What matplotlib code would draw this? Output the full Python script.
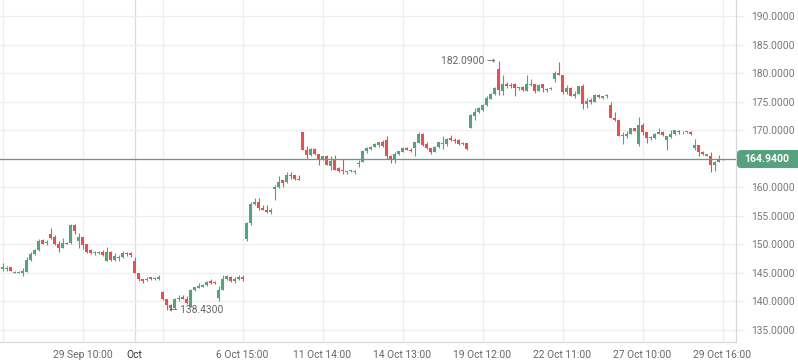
import matplotlib
matplotlib.use("Agg")
from matplotlib import pyplot as plt
from matplotlib.patches import FancyBboxPatch
from matplotlib.transforms import IdentityTransform
import numpy as np

plt.rcParams['font.family'] = ['Roboto', 'DejaVu Sans']

# hourly candles, one row per bar (open, high, low, close)
opens = [145.6, 145.7, 146.0, 145.0, 145.0, 145.0, 145.2, 147.2, 148.3, 149.0,
         150.7, 150.2, 151.8, 151.2, 150.1, 149.3, 150.3, 150.2, 153.4, 150.5,
         151.2, 150.0, 149.0, 148.4, 148.4, 148.7, 147.1, 148.7, 147.3, 147.6,
         147.8, 148.5, 148.4, 147.0, 145.0, 143.9, 143.7, 144.2, 143.9, 143.9,
         141.7, 140.4, 139.4, 138.8, 140.4, 140.7, 140.5, 139.1, 142.0, 142.4,
         142.6, 142.8, 143.6, 143.4, 140.6, 142.0, 143.9, 144.3, 143.6, 143.9,
         144.2, 150.9, 153.7, 157.1, 157.5, 156.4, 156.1, 155.7, 159.7, 160.1,
         161.2, 161.0, 162.1, 162.1, 161.4, 169.6, 166.6, 165.6, 166.7, 165.8,
         164.8, 165.4, 163.7, 164.7, 163.3, 163.0, 162.6, 162.8, 162.7, 164.1,
         164.5, 166.3, 166.7, 167.1, 167.4, 167.9, 168.2, 165.4, 164.9, 165.9,
         166.2, 166.8, 166.6, 166.8, 167.7, 169.4, 167.6, 166.9, 166.1, 167.0,
         167.5, 167.5, 168.6, 168.3, 168.3, 167.5, 167.8, 170.4, 172.5, 173.1,
         173.5, 174.4, 175.5, 176.3, 180.7, 176.9, 178.0, 177.8, 178.0, 177.3,
         177.6, 176.9, 177.9, 178.0, 176.9, 178.0, 177.2, 177.2, 179.0, 180.0,
         179.7, 176.7, 177.4, 176.0, 176.4, 177.8, 174.5, 175.3, 175.0, 176.2,
         175.7, 175.9, 174.4, 172.2, 171.8, 168.9, 169.0, 169.4, 170.3, 167.5,
         170.9, 169.7, 168.6, 168.6, 169.4, 169.7, 168.3, 168.8, 169.3, 169.9,
         169.6, 169.6, 169.7, 166.8, 167.4, 166.2, 165.5, 165.5, 163.9, 164.5,
         164.8]
highs = [146.7, 146.2, 146.1, 145.3, 145.3, 145.8, 147.8, 148.6, 149.2, 150.9,
         150.9, 150.8, 152.8, 151.6, 150.6, 151.1, 150.4, 153.6, 153.5, 151.9,
         151.3, 150.0, 149.1, 148.9, 148.8, 149.0, 149.5, 148.8, 148.4, 148.1,
         148.8, 148.7, 148.6, 147.8, 145.0, 144.0, 144.2, 144.3, 144.2, 144.6,
         141.8, 140.5, 139.5, 140.6, 141.2, 141.1, 141.0, 142.1, 142.6, 143.3,
         143.0, 143.5, 143.9, 143.5, 142.7, 144.6, 144.6, 144.5, 144.3, 144.6,
         144.6, 153.9, 157.5, 158.1, 158.1, 156.9, 156.9, 156.3, 160.4, 161.9,
         161.3, 162.6, 162.6, 162.2, 162.1, 169.7, 167.2, 166.8, 166.9, 165.8,
         165.5, 165.6, 165.5, 165.6, 163.6, 164.9, 162.9, 163.0, 163.0, 164.8,
         166.5, 167.1, 167.3, 167.7, 168.0, 168.3, 168.9, 165.6, 166.2, 166.4,
         167.0, 167.0, 166.9, 167.9, 169.6, 169.5, 167.9, 166.9, 167.2, 168.0,
         169.0, 168.6, 169.1, 168.6, 168.4, 167.9, 167.8, 172.8, 173.8, 174.0,
         174.5, 175.9, 176.5, 177.5, 182.09, 179.7, 178.4, 178.3, 178.2, 177.6,
         177.8, 179.7, 179.0, 178.0, 178.0, 178.1, 177.3, 177.6, 180.4, 182.0,
         179.7, 177.9, 177.5, 176.9, 177.8, 178.0, 175.6, 175.7, 176.3, 176.3,
         176.0, 176.3, 174.9, 173.1, 171.8, 169.6, 169.9, 170.4, 170.4, 172.3,
         171.2, 169.7, 168.9, 169.5, 170.3, 169.9, 169.0, 170.0, 170.1, 170.1,
         169.9, 169.9, 169.9, 168.4, 167.4, 166.4, 165.9, 166.1, 164.6, 165.6,
         165.0]
lows = [145.4, 145.4, 145.3, 144.9, 144.9, 144.4, 145.1, 147.1, 148.2, 148.9,
        150.0, 149.9, 150.9, 149.8, 148.7, 149.3, 150.0, 150.1, 151.8, 149.4,
        149.1, 148.5, 148.3, 148.2, 148.3, 148.0, 147.0, 147.0, 147.1, 147.0,
        147.6, 148.0, 147.7, 144.9, 143.6, 143.3, 143.5, 143.8, 143.8, 143.7,
        140.3, 138.43, 138.5, 138.7, 140.1, 140.4, 139.5, 139.0, 141.8, 142.3,
        142.5, 142.7, 143.1, 143.1, 140.0, 142.0, 143.8, 143.4, 143.3, 143.8,
        143.5, 150.6, 153.4, 156.9, 156.1, 156.0, 155.5, 155.4, 157.8, 159.8,
        160.1, 160.8, 161.4, 161.3, 161.3, 166.5, 164.9, 165.5, 165.7, 163.9,
        164.7, 163.9, 163.0, 163.0, 162.6, 162.3, 162.3, 162.6, 162.3, 163.6,
        164.5, 166.0, 166.6, 167.0, 167.1, 167.1, 164.9, 164.2, 164.2, 165.7,
        166.1, 166.5, 166.2, 165.4, 167.7, 167.3, 166.7, 165.9, 166.1, 166.9,
        166.7, 167.3, 168.1, 167.8, 167.4, 167.4, 166.6, 170.4, 171.8, 173.0,
        173.4, 174.3, 175.4, 176.2, 176.2, 176.2, 177.3, 177.3, 176.0, 177.0,
        176.9, 176.9, 177.7, 176.5, 176.8, 176.7, 176.7, 177.0, 178.5, 179.6,
        176.4, 176.3, 175.9, 175.7, 176.3, 173.7, 173.8, 174.6, 175.0, 175.7,
        175.5, 175.7, 172.1, 171.6, 168.9, 167.5, 168.7, 169.3, 169.8, 167.3,
        169.2, 167.7, 168.3, 168.5, 169.3, 169.0, 166.6, 168.6, 169.1, 169.3,
        169.4, 169.5, 169.2, 166.6, 165.5, 165.6, 165.4, 162.7, 162.9, 164.5,
        164.7]
closes = [146.0, 145.9, 145.4, 145.1, 145.1, 145.3, 147.2, 148.3, 149.0, 150.6,
          150.1, 150.3, 151.1, 150.0, 149.3, 150.2, 150.1, 153.4, 152.4, 151.2,
          149.9, 148.7, 148.4, 148.6, 148.6, 148.2, 148.6, 147.3, 148.0, 147.8,
          148.4, 148.3, 148.1, 145.0, 143.9, 143.6, 144.0, 144.0, 144.1, 144.2,
          140.4, 139.4, 138.8, 140.5, 140.6, 140.5, 139.7, 142.0, 142.5, 142.7,
          142.9, 143.4, 143.2, 143.2, 142.0, 143.9, 144.4, 143.5, 144.0, 144.2,
          144.0, 153.8, 157.1, 157.5, 156.3, 156.1, 155.7, 156.0, 160.1, 161.0,
          160.8, 162.1, 161.9, 161.4, 161.3, 166.6, 165.6, 166.7, 165.8, 164.9,
          165.5, 163.9, 164.6, 163.0, 162.9, 162.9, 162.8, 162.9, 162.9, 164.3,
          166.4, 166.9, 167.1, 167.5, 167.9, 167.3, 165.4, 164.8, 165.9, 166.3,
          166.8, 166.6, 166.4, 167.9, 169.4, 167.4, 166.8, 166.1, 167.1, 167.9,
          167.7, 168.5, 168.2, 168.1, 167.5, 167.8, 166.7, 172.7, 173.2, 173.8,
          174.4, 175.7, 176.3, 177.3, 177.0, 178.0, 177.8, 177.7, 177.3, 177.6,
          177.0, 178.0, 178.1, 176.9, 177.9, 177.3, 177.0, 177.4, 180.0, 179.7,
          176.7, 177.4, 176.0, 176.4, 177.8, 174.5, 175.1, 174.9, 176.2, 175.8,
          175.9, 176.1, 172.2, 171.8, 169.0, 169.2, 169.4, 170.3, 169.9, 170.9,
          169.7, 168.7, 168.7, 169.4, 169.6, 169.1, 169.0, 169.3, 170.0, 169.6,
          169.7, 169.8, 169.4, 167.4, 166.2, 165.8, 165.8, 163.9, 164.5, 164.8,
          164.94]

tick_idx = [20, 33, 60, 80, 100, 120, 140, 160, 180]
tick_labels = ['29 Sep 10:00', 'Oct', '6 Oct 15:00', '11 Oct 14:00', '14 Oct 13:00',
               '19 Oct 12:00', '22 Oct 11:00', '27 Oct 10:00', '29 Oct 16:00']
grid_idx = [0, 20, 40, 60, 80, 100, 120, 140, 160, 180]
month_idx = 33
price_ticks = list(range(135, 191, 5))

GREEN = '#58a17e'
RED = '#e0544f'
GRID = '#eceef1'

o = np.array(opens)
h = np.array(highs)
l = np.array(lows)
c = np.array(closes)
x = np.arange(len(o))
up = c >= o
colors = np.where(up, GREEN, RED)

fig = plt.figure(figsize=(7.98, 3.63), dpi=100)
ax = fig.add_axes([0, 21 / 363, 736 / 798, 342 / 363])

for gx in grid_idx:
    ax.axvline(gx, color=GRID, lw=0.9, zorder=0)
ax.axvline(month_idx, color='#dadde2', lw=0.9, zorder=0)
for gy in price_ticks:
    ax.axhline(gy, color=GRID, lw=0.9, zorder=0)

ax.vlines(x, l, h, color=colors, lw=0.8, zorder=2)
body = np.maximum(np.abs(c - o), 0.15)
ax.bar(x, body, bottom=np.minimum(o, c), width=0.72, color=colors, zorder=3)

last = closes[-1]
ax.axhline(last, color=GREEN, lw=0.9, zorder=4)

# high / low markers
hi = int(np.argmax(h))
lo = int(np.argmin(l))
ax.text(hi - 0.8, h[hi], '%.4f \u2192' % h[hi], ha='right', va='center',
        fontsize=7.4, color='#666666', family=['Roboto', 'DejaVu Sans'], zorder=5)
ax.text(lo + 0.6, l[lo], '\u2190 %.4f' % l[lo], ha='left', va='center',
        fontsize=7.4, color='#666666', family=['Roboto', 'DejaVu Sans'], zorder=5)

ax.set_xlim(-0.625, 183.375)
ax.set_ylim(132.89, 192.80)

ax.yaxis.tick_right()
ax.set_yticks(price_ticks)
# the tick hidden under the price tag gets no label
ax.set_yticklabels(['' if abs(v - last) < 2.5 else '%.4f' % v for v in price_ticks])
ax.tick_params(axis='y', length=6, width=0.9, color=GRID, pad=5,
               labelsize=7.4, labelcolor='#777777')
ax.set_xticks(tick_idx)
ax.set_xticklabels(tick_labels)
ax.tick_params(axis='x', length=0, pad=6, labelsize=7.4, labelcolor='#666666')
ax.get_xticklabels()[1].set_color('#333333')

for side in ['left', 'top']:
    ax.spines[side].set_visible(False)
for side in ['right', 'bottom']:
    ax.spines[side].set_color('#d5d9de')
    ax.spines[side].set_linewidth(0.9)

# current price tag on the axis
fig.canvas.draw()
py = ax.transData.transform((0, last))[1]
tag = FancyBboxPatch((737, py - 9), 70, 18, boxstyle='round,pad=0,rounding_size=4',
                     transform=IdentityTransform(), facecolor=GREEN, edgecolor='none')
fig.add_artist(tag)
fig.text(767 / 798, py / 363, '%.4f' % last, ha='center', va='center',
         fontsize=7.6, color='white', fontweight='bold')

fig.savefig('out.png', dpi=100)
